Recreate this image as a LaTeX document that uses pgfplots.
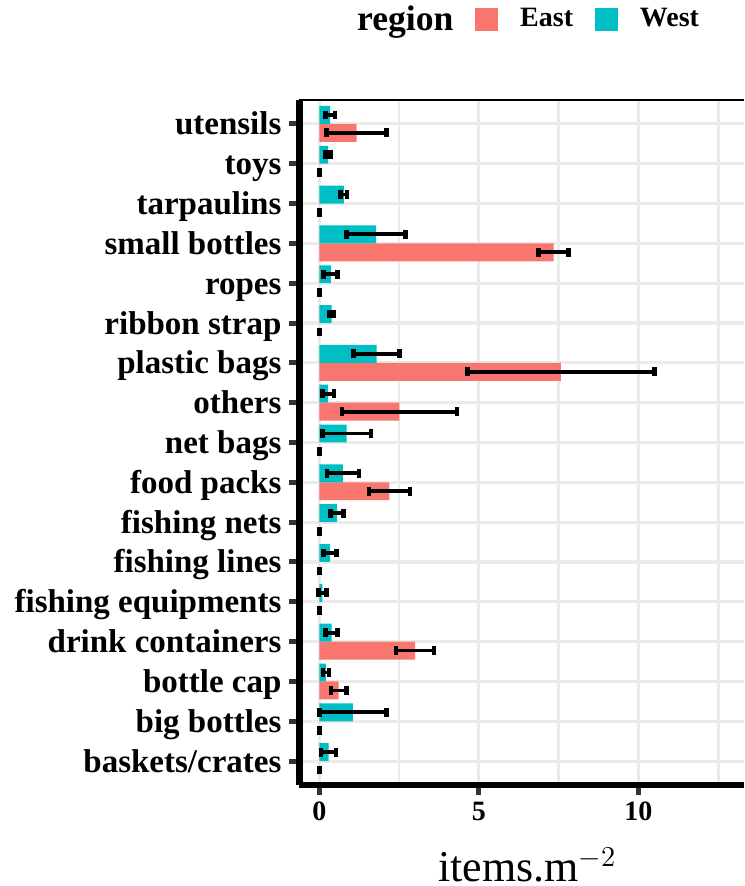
\documentclass[border=0pt]{standalone}
\usepackage{pgfplots}
\pgfplotsset{compat=1.18}
\usepackage{pgfplotstable}
\usepackage{fontspec}
\setmainfont{Liberation Serif}
\definecolor{eastc}{HTML}{F8766D}
\definecolor{westc}{HTML}{00BFC4}
\definecolor{gridc}{HTML}{EBEBEB}
\definecolor{tickc}{HTML}{333333}

% East: category index - 0.225 (err 0.01 = zero-width error bar)
\pgfplotstableread{
pos val err
-0.225 0 0.01
0.775 0 0.01
1.775 0.61 0.245
2.775 3.00 0.60
3.775 0 0.01
4.775 0 0.01
5.775 0 0.01
6.775 2.20 0.64
7.775 0 0.01
8.775 2.51 1.80
9.775 7.57 2.93
10.775 0 0.01
11.775 0 0.01
12.775 7.34 0.47
13.775 0 0.01
14.775 0 0.01
15.775 1.17 0.94
}\eastdata

% West: category index + 0.225
\pgfplotstableread{
pos val err
0.225 0.29 0.23
1.225 1.05 1.05
2.225 0.21 0.09
3.225 0.39 0.19
4.225 0.10 0.13
5.225 0.34 0.20
6.225 0.56 0.20
7.225 0.74 0.50
8.225 0.86 0.76
9.225 0.28 0.18
10.225 1.80 0.72
11.225 0.39 0.07
12.225 0.36 0.22
13.225 1.78 0.92
14.225 0.77 0.10
15.225 0.28 0.08
16.225 0.34 0.15
}\westdata

\begin{document}
\begin{tikzpicture}
\begin{axis}[
  at={(0,0)}, anchor=south west,
  scale only axis, width=222.25pt, height=342.5pt,
  xmin=-0.62, xmax=13.31, ymin=-0.6, ymax=16.6,
  axis x line*=bottom, axis y line*=left,
  x axis line style={black, line width=3pt},
  y axis line style={black, line width=3.5pt},
  xtick={0,5,10}, minor xtick={2.5,7.5,12.5},
  ytick={0,...,16},
  yticklabels={baskets/crates,big bottles,bottle cap,drink containers,fishing equipments,fishing lines,fishing nets,food packs,net bags,others,plastic bags,ribbon strap,ropes,small bottles,tarpaulins,toys,utensils},
  tick align=outside, major tick length=5pt, minor tick length=0pt,
  tick style={tickc, line width=2.5pt},
  xmajorgrids, xminorgrids, ymajorgrids,
  major grid style={gridc, line width=1.6pt},
  minor grid style={gridc, line width=1.4pt},
  /pgf/number format/assume math mode=true,
  xticklabel style={font=\bfseries\fontsize{14}{16}\selectfont},
  yticklabel style={font=\bfseries\fontsize{16.5}{18}\selectfont, anchor=base east, yshift=-5.5pt, xshift=-0.5pt},
  xlabel={items.m$^{-2}$},
  xlabel style={font=\fontsize{22}{24}\selectfont, inner sep=0pt, at={(axis description cs:0.512,-0.1415)}, anchor=base},
  legend style={draw=none, fill=none, legend columns=-1,
    at={(axis description cs:0.8988,1.118)}, anchor=east,
    font=\bfseries\fontsize{14}{16}\selectfont,
    inner sep=0pt, outer sep=0pt, nodes={inner sep=0pt},
    /tikz/every odd column/.append style={column sep=11pt},
    /tikz/every even column/.append style={column sep=11pt}},
  after end axis/.code={\draw[black, line width=1.2pt] (rel axis cs:0,1) -- (rel axis cs:1,1);},
]
\addlegendimage{empty legend}
\addlegendentry{\fontsize{17.8}{20}\selectfont region}
\addlegendimage{legend image code/.code={\fill[eastc] (0pt,-5.5pt) rectangle (11pt,5.5pt);}}
\addlegendentry{East}
\addlegendimage{legend image code/.code={\fill[westc] (0pt,-5.5pt) rectangle (11pt,5.5pt);}}
\addlegendentry{West}

\addplot[forget plot, xbar, bar width=0.45, bar shift=0pt, fill=eastc, draw=none,
  error bars/.cd, x dir=both, x explicit, error mark=|,
  error bar style={black, line width=1.9pt},
  error mark options={black, line width=2.3pt, mark size=2.2pt}]
  table[x=val, y=pos, x error=err] {\eastdata};
\addplot[forget plot, xbar, bar width=0.45, bar shift=0pt, fill=westc, draw=none,
  error bars/.cd, x dir=both, x explicit, error mark=|,
  error bar style={black, line width=1.9pt},
  error mark options={black, line width=2.3pt, mark size=2.2pt}]
  table[x=val, y=pos, x error=err] {\westdata};
\end{axis}
\pgfresetboundingbox
\useasboundingbox (-149.75pt,-50.5pt) rectangle (222.25pt,392.5pt);
\end{tikzpicture}
\end{document}
